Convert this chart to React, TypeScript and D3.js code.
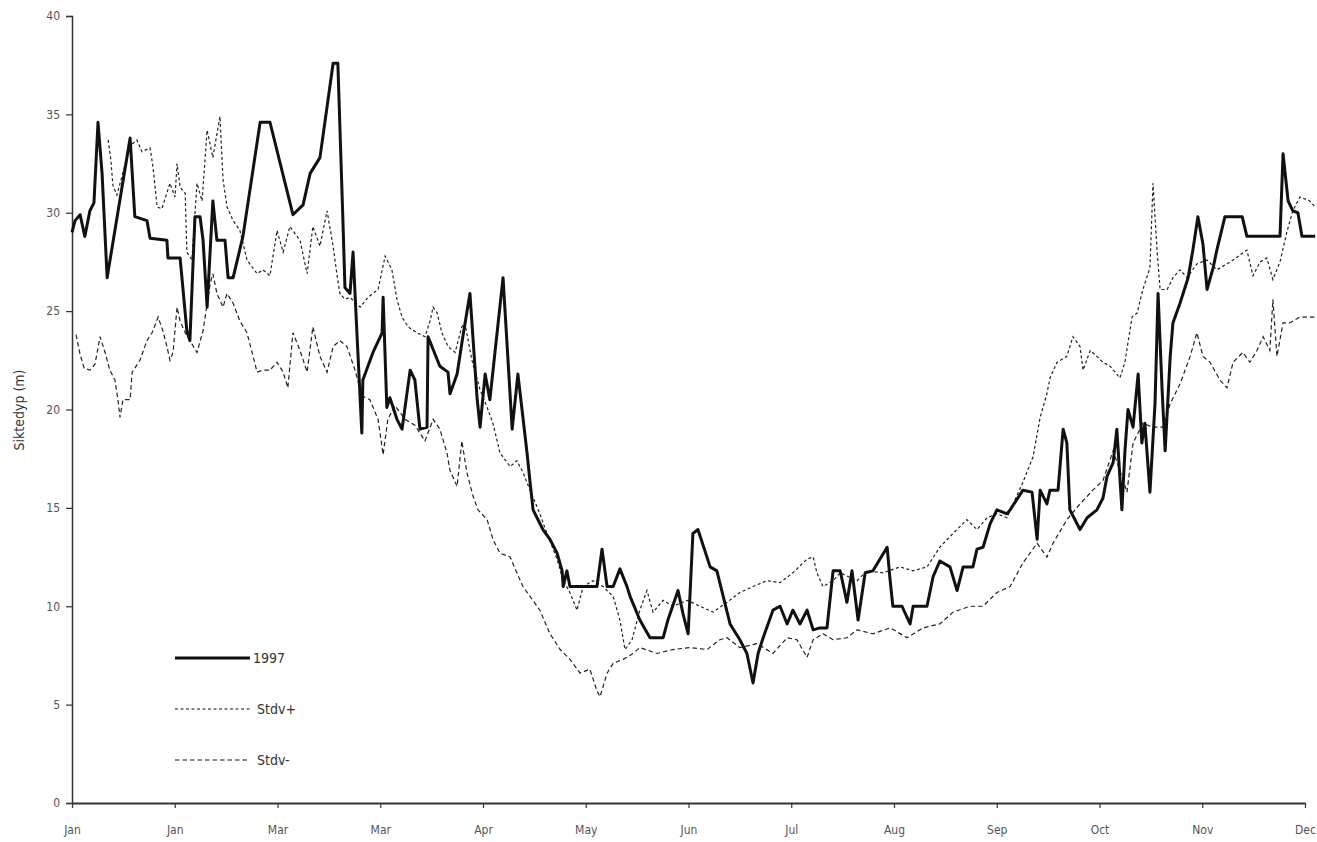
import React, { useEffect, useRef } from "react";
import * as d3 from "d3";

// day of year, Secchi depth (m)
const series1997: [number, number][] = [
  [0, 29.0], [0.9, 29.6], [2.4, 29.9], [3.8, 28.8], [5.3, 30.1], [6.5, 30.5], [7.7, 34.6], [8.9, 32.0],
  [10.4, 26.7], [17.2, 33.8], [18.6, 29.8], [22.2, 29.6], [23.1, 28.7], [28.1, 28.6], [28.4, 27.7],
  [32.0, 27.7], [34.0, 24.0], [34.9, 23.5], [36.4, 29.8], [37.9, 29.8], [38.8, 28.6], [40.0, 25.2],
  [41.7, 30.6], [42.9, 28.6], [45.3, 28.6], [46.2, 26.7], [47.7, 26.7], [50.6, 28.8], [55.7, 34.6],
  [58.6, 34.6], [65.4, 29.9], [68.4, 30.4], [70.5, 32.0], [73.4, 32.8], [77.3, 37.6], [78.7, 37.6],
  [80.2, 29.6], [80.8, 26.2], [82.3, 25.9], [83.2, 28.0], [84.4, 23.7], [85.8, 18.8], [86.1, 21.5],
  [89.1, 22.9], [91.8, 23.9], [92.1, 25.7], [93.2, 20.1], [94.1, 20.6], [96.2, 19.5], [97.7, 19.0],
  [100.1, 22.0], [101.5, 21.5], [103.0, 19.0], [105.1, 19.1], [105.4, 23.7], [108.9, 22.2], [111.3, 21.9],
  [111.9, 20.8], [114.0, 21.8], [115.7, 23.7], [117.8, 25.9], [119.9, 20.6], [120.8, 19.1], [122.3, 21.8],
  [123.7, 20.5], [127.6, 26.7], [130.3, 19.0], [132.0, 21.8], [134.7, 17.8], [135.6, 16.3], [136.5, 14.9],
  [139.4, 13.9], [141.5, 13.4], [143.6, 12.7], [145.1, 11.8], [145.4, 11.0], [146.5, 11.8], [147.4, 11.0],
  [155.4, 11.0], [156.9, 12.9], [158.4, 11.0], [160.2, 11.0], [162.2, 11.9], [164.3, 11.0], [165.2, 10.5],
  [168.1, 9.3], [171.1, 8.4], [175.0, 8.4], [176.4, 9.3], [179.4, 10.8], [180.9, 9.6], [182.4, 8.6],
  [183.8, 13.7], [185.3, 13.9], [188.9, 12.0], [190.9, 11.8], [194.8, 9.1], [197.7, 8.3], [199.8, 7.6],
  [201.6, 6.1], [203.1, 7.6], [204.6, 8.4], [207.5, 9.8], [209.6, 10.0], [211.7, 9.1], [213.4, 9.8],
  [215.5, 9.1], [217.6, 9.8], [219.4, 8.8], [221.4, 8.9], [223.5, 8.9], [225.3, 11.8], [227.4, 11.8],
  [229.4, 10.2], [230.9, 11.8], [232.7, 9.3], [234.8, 11.7], [237.1, 11.8], [241.3, 13.0], [242.2, 11.3],
  [243.0, 10.0], [245.7, 10.0], [248.1, 9.1], [249.0, 10.0], [253.1, 10.0], [254.9, 11.5], [256.9, 12.3],
  [259.9, 12.0], [262.0, 10.8], [263.8, 12.0], [266.7, 12.0], [267.9, 12.9], [269.7, 13.0], [271.8, 14.2],
  [273.8, 14.9], [276.8, 14.7], [277.7, 14.9], [281.5, 15.9], [284.2, 15.8], [285.7, 13.4], [286.6, 15.9],
  [288.6, 15.2], [289.5, 15.9], [291.9, 15.9], [293.4, 19.0], [294.5, 18.3], [295.4, 14.9], [298.4, 13.9],
  [300.5, 14.5], [303.4, 14.9], [305.2, 15.5], [306.4, 16.6], [308.2, 17.3], [309.3, 19.0], [310.8, 14.9],
  [311.7, 17.9], [312.6, 20.0], [314.1, 19.1], [315.6, 21.8], [316.7, 18.3], [317.6, 19.3], [319.1, 15.8],
  [320.6, 20.3], [321.5, 25.9], [322.7, 21.0], [323.6, 17.9], [325.1, 22.7], [325.9, 24.4], [328.0, 25.4],
  [330.4, 26.7], [331.8, 28.1], [333.3, 29.8], [334.8, 28.4], [336.0, 26.1], [337.8, 27.2], [338.9, 28.1],
  [341.3, 29.8], [346.4, 29.8], [347.8, 28.8], [357.6, 28.8], [358.5, 33.0], [360.0, 30.6], [361.4, 30.1],
  [362.9, 30.0], [364.1, 28.8], [368, 28.8],
];

const stdvPlus: [number, number][] = [
  [10.7, 33.7], [11.5, 32.7], [12.1, 31.4], [13.3, 30.9], [17.2, 33.4], [19.2, 33.7], [20.7, 33.1],
  [23.1, 33.3], [24.0, 32.3], [25.2, 30.3], [26.6, 30.2], [29.0, 31.5], [30.5, 30.8], [31.1, 32.5],
  [32.0, 31.3], [33.5, 31.0], [34.0, 28.0], [35.5, 27.6], [37.0, 31.5], [38.5, 30.6], [40.0, 34.2],
  [41.7, 32.8], [43.8, 34.9], [44.7, 31.7], [45.9, 30.3], [47.7, 29.6], [49.7, 29.1], [51.8, 27.6],
  [54.8, 26.9], [56.5, 27.1], [58.6, 26.8], [60.7, 29.1], [62.5, 28.0], [64.5, 29.3], [67.5, 28.6],
  [69.6, 26.9], [71.3, 29.3], [73.4, 28.3], [75.5, 30.1], [77.3, 28.3], [78.4, 26.9], [79.3, 25.9],
  [80.8, 25.6], [82.3, 25.7], [85.3, 25.2], [87.6, 25.7], [90.6, 26.1], [92.7, 27.8], [94.7, 27.1],
  [96.2, 25.6], [97.7, 24.7], [99.5, 24.2], [102.1, 23.9], [104.5, 23.7], [106.0, 24.5], [106.9, 25.2],
  [108.1, 24.9], [109.5, 23.9], [111.3, 23.2], [113.4, 22.9], [115.4, 24.2], [116.3, 24.4], [118.4, 22.5],
  [120.8, 21.0], [122.9, 20.1], [124.6, 19.3], [126.7, 17.8], [129.7, 17.1], [131.7, 17.4], [133.5, 16.8],
  [135.6, 15.9], [138.5, 14.7], [140.6, 13.7], [143.6, 12.4], [145.4, 11.3], [147.4, 10.7], [149.5, 9.8],
  [151.3, 11.0], [154.2, 11.3], [157.2, 11.0], [160.2, 10.5], [162.2, 9.3], [163.7, 7.8], [165.8, 8.3],
  [168.1, 9.8], [170.2, 10.8], [172.0, 9.7], [175.0, 10.3], [177.9, 10.0], [182.1, 10.3], [185.9, 10.0],
  [189.8, 9.7], [193.9, 10.2], [197.7, 10.7], [201.6, 11.0], [205.7, 11.3], [209.6, 11.2], [213.4, 11.7],
  [217.6, 12.4], [219.4, 12.5], [220.5, 11.7], [222.3, 11.0], [225.3, 11.3], [227.4, 11.7], [232.4, 11.3],
  [235.3, 11.8], [240.1, 11.7], [245.1, 12.0], [249.0, 11.8], [253.1, 12.0], [256.9, 13.0], [260.8, 13.7],
  [264.9, 14.4], [267.9, 13.9], [270.9, 14.5], [273.8, 14.7], [276.8, 14.5], [278.6, 15.2], [281.5, 16.3],
  [284.5, 17.6], [286.6, 19.6], [288.6, 20.8], [289.5, 21.6], [291.6, 22.4], [294.5, 22.7], [296.3, 23.7],
  [298.4, 23.2], [299.3, 22.0], [301.4, 23.0], [303.4, 22.7], [305.2, 22.4], [307.3, 22.2], [310.2, 21.6],
  [311.7, 22.4], [312.6, 23.4], [313.8, 24.7], [315.3, 24.9], [317.0, 26.1], [319.1, 27.2], [320.0, 31.5],
  [321.2, 28.1], [322.1, 26.1], [324.2, 26.1], [325.9, 26.7], [328.0, 27.1], [330.1, 26.7], [333.0, 27.4],
  [336.0, 27.6], [338.9, 27.1], [341.9, 27.4], [343.7, 27.6], [347.8, 28.1], [349.6, 26.8], [351.7, 27.5],
  [353.7, 27.7], [355.5, 26.6], [357.6, 27.5], [359.6, 29.0], [361.4, 30.1], [363.5, 30.8], [366.4, 30.6],
  [368.0, 30.3],
];

const stdvMinus: [number, number][] = [
  [1.2, 23.8], [2.4, 22.8], [3.6, 22.1], [5.3, 22.0], [6.8, 22.3], [8.3, 23.7], [9.8, 22.9], [11.2, 22.0],
  [12.7, 21.5], [13.6, 20.5], [14.2, 19.6], [15.1, 20.5], [17.2, 20.5], [17.8, 21.9], [20.1, 22.5],
  [22.2, 23.5], [23.7, 23.9], [25.5, 24.7], [26.9, 24.0], [28.1, 23.2], [29.0, 22.5], [29.9, 22.9],
  [31.1, 25.2], [32.0, 24.5], [33.5, 23.9], [34.9, 23.5], [37.0, 22.9], [38.8, 24.0], [40.9, 26.4],
  [41.7, 26.9], [42.9, 25.9], [44.7, 25.2], [45.9, 25.9], [47.7, 25.4], [49.7, 24.5], [51.8, 23.9],
  [53.3, 22.9], [54.8, 21.9], [56.5, 22.0], [58.6, 22.0], [60.7, 22.4], [62.5, 21.9], [63.9, 21.1],
  [65.4, 23.9], [67.5, 23.0], [69.6, 21.9], [71.3, 24.2], [73.4, 22.7], [75.5, 21.9], [77.3, 23.2],
  [79.3, 23.5], [81.4, 23.2], [83.8, 22.0], [85.8, 20.7], [88.2, 20.5], [90.6, 19.5], [92.1, 17.7],
  [93.5, 19.5], [95.6, 20.2], [98.6, 19.5], [101.5, 19.2], [104.5, 18.4], [106.9, 19.5], [108.9, 19.0],
  [111.0, 17.8], [111.9, 16.9], [114.0, 16.1], [115.4, 18.4], [116.9, 16.8], [118.7, 15.6], [120.2, 14.9],
  [122.9, 14.4], [124.6, 13.4], [126.7, 12.7], [129.7, 12.5], [131.7, 11.7], [133.5, 11.0], [135.6, 10.5],
  [138.5, 9.8], [141.5, 8.6], [144.5, 7.8], [147.4, 7.3], [150.4, 6.6], [153.3, 6.8], [155.4, 5.7],
  [156.3, 5.4], [158.4, 6.6], [160.2, 7.1], [163.1, 7.3], [166.1, 7.6], [168.1, 7.9], [173.2, 7.6],
  [177.9, 7.8], [182.9, 7.9], [188.0, 7.8], [191.8, 8.3], [193.9, 8.4], [197.7, 7.9], [202.8, 8.1],
  [207.5, 7.6], [211.7, 8.4], [214.6, 8.3], [217.6, 7.4], [219.4, 8.3], [222.3, 8.6], [225.3, 8.3],
  [229.4, 8.4], [232.4, 8.8], [237.1, 8.6], [242.2, 8.9], [247.2, 8.4], [251.9, 8.9], [256.9, 9.1],
  [260.8, 9.7], [265.8, 10.0], [269.7, 10.0], [273.8, 10.7], [277.7, 11.0], [281.5, 12.2], [285.7, 13.2],
  [288.6, 12.5], [290.4, 13.2], [294.5, 14.4], [298.4, 15.2], [302.2, 15.9], [305.2, 16.4], [308.2, 17.9],
  [310.2, 16.9], [312.3, 15.8], [314.1, 18.3], [317.0, 19.3], [320.0, 19.1], [323.0, 19.1], [325.1, 20.3],
  [328.0, 21.3], [331.0, 22.7], [333.0, 23.9], [334.8, 22.7], [336.9, 22.4], [339.8, 21.5], [341.9, 21.1],
  [343.7, 22.4], [346.6, 22.9], [348.7, 22.4], [350.8, 23.0], [352.6, 23.7], [354.6, 23.0], [355.5, 25.6],
  [356.7, 22.7], [358.5, 24.4], [360.5, 24.4], [363.5, 24.7], [368.0, 24.7],
];

const xTickLabels = ["Jan", "Jan", "Mar", "Mar", "Apr", "May", "Jun", "Jul", "Aug", "Sep", "Oct", "Nov", "Dec"];
const yTicks = [0, 5, 10, 15, 20, 25, 30, 35, 40];
const legendItems = [
  { name: "1997", dash: null, width: 3 },
  { name: "Stdv+", dash: "3,2.5", width: 1.2 },
  { name: "Stdv-", dash: "4.5,3", width: 1.2 },
];

const W = 1317;
const H = 842;
const FONT = "'DejaVu Sans Condensed', 'Liberation Sans Narrow', 'Open Sans', sans-serif";

export default function App() {
  const ref = useRef<SVGSVGElement>(null);

  useEffect(() => {
    const svg = d3.select(ref.current);
    svg.selectAll("*").remove();

    const x = d3.scaleLinear().domain([0, 365]).range([72, 1305]);
    const y = d3.scaleLinear().domain([0, 40]).range([803, 16]);
    const xTicks = xTickLabels.map((_, i) => (i * 365) / 12);

    // axes
    const gy = svg.append("g")
      .attr("transform", "translate(72,0)")
      .call(d3.axisLeft(y).tickValues(yTicks).tickSize(6).tickPadding(6));
    gy.select(".domain").attr("stroke", "#333").attr("stroke-width", 1.5);
    gy.selectAll(".tick line").attr("stroke", "#333").attr("stroke-width", 1.2);
    gy.selectAll("text").attr("font-family", FONT).attr("font-stretch", "condensed")
      .attr("font-size", 12).attr("fill", "#555");

    const gx = svg.append("g")
      .attr("transform", "translate(0,803)")
      .call(d3.axisBottom(x).tickValues(xTicks).tickFormat((d, i) => xTickLabels[i]).tickSize(5).tickSizeOuter(0).tickPadding(17));
    gx.select(".domain").attr("stroke", "#333").attr("stroke-width", 2);
    gx.selectAll(".tick line").attr("stroke", "#333").attr("stroke-width", 1.2);
    gx.selectAll("text").attr("font-family", FONT).attr("font-stretch", "condensed")
      .attr("font-size", 12).attr("fill", "#555");

    svg.append("text")
      .attr("transform", "translate(24,410) rotate(-90)")
      .attr("text-anchor", "middle")
      .attr("font-family", FONT)
      .attr("font-stretch", "condensed")
      .attr("font-size", 14)
      .attr("fill", "#333")
      .text("Siktedyp (m)");

    const line = d3.line<[number, number]>()
      .x(d => x(d[0]))
      .y(d => y(d[1]));

    svg.append("path").datum(stdvMinus)
      .attr("d", line).attr("fill", "none")
      .attr("stroke", "#222").attr("stroke-width", 1.2).attr("stroke-dasharray", "4.5,3");
    svg.append("path").datum(stdvPlus)
      .attr("d", line).attr("fill", "none")
      .attr("stroke", "#222").attr("stroke-width", 1.2).attr("stroke-dasharray", "3,2.5");
    svg.append("path").datum(series1997)
      .attr("d", line).attr("fill", "none")
      .attr("stroke", "#111").attr("stroke-width", 3).attr("stroke-linejoin", "round");

    // legend
    const lg = svg.append("g").attr("transform", "translate(175,658)");
    legendItems.forEach((it, i) => {
      const row = lg.append("g").attr("transform", `translate(0,${i * 51})`);
      row.append("line")
        .attr("x1", 0).attr("x2", 75).attr("y1", 0).attr("y2", 0)
        .attr("stroke", "#111").attr("stroke-width", it.width)
        .attr("stroke-dasharray", it.dash);
      row.append("text")
        .attr("x", i === 0 ? 78 : 82).attr("y", 5)
        .attr("font-family", FONT).attr("font-stretch", "condensed")
        .attr("font-size", 14).attr("fill", "#333")
        .text(it.name);
    });
  }, []);

  return (
    <svg ref={ref} width={W} height={H}
      style={{ position: "absolute", left: 0, top: 0, background: "#fff" }} />
  );
}
